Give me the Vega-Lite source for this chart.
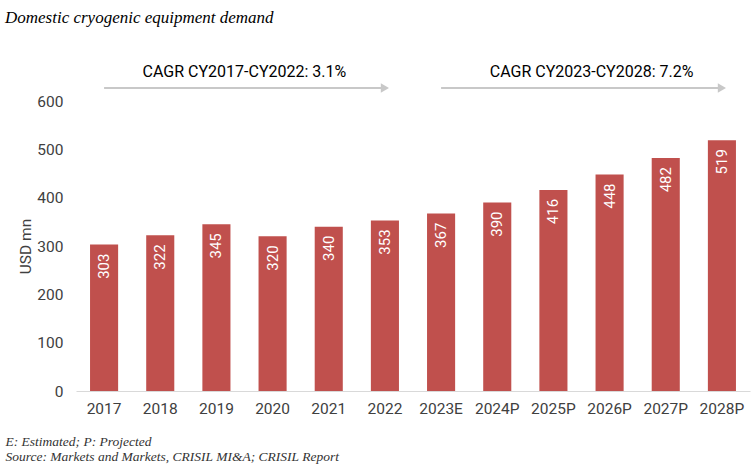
{
  "$schema": "https://vega.github.io/schema/vega-lite/v6.json",
  "width": 674,
  "height": 290,
  "autosize": {"type": "none"},
  "padding": {"left": 76, "top": 101, "right": 2, "bottom": 77},
  "background": "white",
  "config": {"view": {"stroke": null}},
  "title": {
    "text": "Domestic cryogenic equipment demand",
    "anchor": "start",
    "frame": "group",
    "orient": "top",
    "dx": -71,
    "offset": 37,
    "font": "Liberation Serif",
    "fontStyle": "italic",
    "fontWeight": "normal",
    "fontSize": 17,
    "color": "#000000"
  },
  "datasets": {
    "bars": [
      {"year": "2017", "value": 303},
      {"year": "2018", "value": 322},
      {"year": "2019", "value": 345},
      {"year": "2020", "value": 320},
      {"year": "2021", "value": 340},
      {"year": "2022", "value": 353},
      {"year": "2023E", "value": 367},
      {"year": "2024P", "value": 390},
      {"year": "2025P", "value": 416},
      {"year": "2026P", "value": 448},
      {"year": "2027P", "value": 482},
      {"year": "2028P", "value": 519}
    ],
    "arrows": [
      {"start": "2017", "end": "2022", "y": 627},
      {"start": "2023E", "end": "2028P", "y": 627}
    ]
  },
  "layer": [
    {
      "data": {"name": "bars"},
      "mark": {"type": "bar", "color": "#C0504D"},
      "encoding": {
        "x": {
          "field": "year",
          "type": "nominal",
          "sort": null,
          "scale": {"paddingInner": 0.5, "paddingOuter": 0.25},
          "axis": {
            "labelAngle": 0,
            "labelFont": "Roboto",
            "labelFontSize": 15.5,
            "labelColor": "#404040",
            "labelPadding": 10,
            "ticks": false,
            "domainColor": "#d9d9d9",
            "domainWidth": 1,
            "title": ["E: Estimated; P: Projected", "Source: Markets and Markets, CRISIL MI&A; CRISIL Report"],
            "titleFont": "Liberation Serif",
            "titleFontStyle": "italic",
            "titleFontWeight": "normal",
            "titleFontSize": 13.5,
            "titleColor": "#333333",
            "titleAnchor": "start",
            "titleAlign": "left",
            "titleBaseline": "top",
            "titleX": -71,
            "titleY": 43,
            "titleLineHeight": 15
          }
        },
        "y": {
          "field": "value",
          "type": "quantitative",
          "scale": {"domain": [0, 600], "nice": false},
          "axis": {
            "values": [0, 100, 200, 300, 400, 500, 600],
            "grid": false,
            "domain": false,
            "ticks": false,
            "labelFont": "Roboto",
            "labelFontSize": 15.5,
            "labelColor": "#404040",
            "labelPadding": 13,
            "title": "USD mn",
            "titleFont": "Roboto",
            "titleFontSize": 15.5,
            "titleFontWeight": "normal",
            "titleColor": "#404040",
            "titlePadding": 3
          }
        }
      }
    },
    {
      "data": {"name": "bars"},
      "mark": {
        "type": "text",
        "angle": -90,
        "align": "right",
        "baseline": "middle",
        "dx": -9,
        "color": "white",
        "font": "Roboto",
        "fontSize": 15
      },
      "encoding": {
        "x": {"field": "year", "type": "nominal", "sort": null},
        "y": {"field": "value", "type": "quantitative"},
        "text": {"field": "value", "type": "quantitative"}
      }
    },
    {
      "data": {"name": "arrows"},
      "mark": {"type": "rule", "color": "#c8c8c8", "strokeWidth": 2},
      "encoding": {
        "x": {"field": "start", "type": "nominal", "sort": null},
        "x2": {"field": "end"},
        "y": {"field": "y", "type": "quantitative"}
      }
    },
    {
      "data": {"name": "arrows"},
      "mark": {"type": "point", "shape": "triangle-right", "filled": true, "color": "#c8c8c8", "opacity": 1, "size": 90},
      "encoding": {
        "x": {"field": "end", "type": "nominal", "sort": null},
        "y": {"field": "y", "type": "quantitative"}
      }
    },
    {
      "data": {"values": [{"label": "CAGR CY2017-CY2022: 3.1%", "year": "2019", "y": 660}]},
      "mark": {"type": "text", "dx": 28, "font": "Roboto", "fontSize": 16, "color": "#000000", "align": "center", "baseline": "middle"},
      "encoding": {
        "x": {"field": "year", "type": "nominal", "sort": null},
        "y": {"field": "y", "type": "quantitative"},
        "text": {"field": "label"}
      }
    },
    {
      "data": {"values": [{"label": "CAGR CY2023-CY2028: 7.2%", "year": "2026P", "y": 660}]},
      "mark": {"type": "text", "dx": -18, "font": "Roboto", "fontSize": 16, "color": "#000000", "align": "center", "baseline": "middle"},
      "encoding": {
        "x": {"field": "year", "type": "nominal", "sort": null},
        "y": {"field": "y", "type": "quantitative"},
        "text": {"field": "label"}
      }
    }
  ]
}
